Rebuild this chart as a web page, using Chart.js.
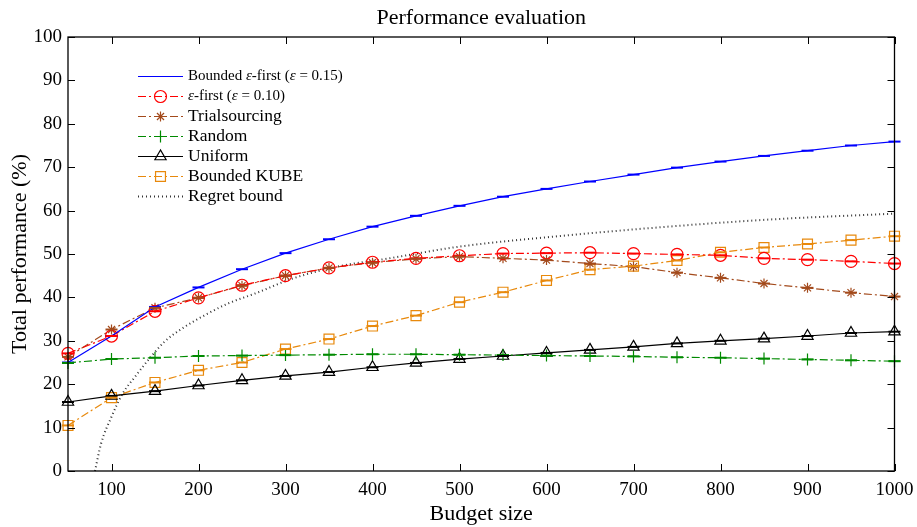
<!DOCTYPE html>
<html>
<head>
<meta charset="utf-8">
<script src="https://cdn.jsdelivr.net/npm/chart.js@4/dist/chart.umd.min.js"></script>
<style>
  html, body { margin: 0; padding: 0; background: #fff; }
  #wrap { width: 917px; height: 527px; }
</style>
</head>
<body>
<div id="wrap"><canvas id="perf" width="917" height="527"></canvas></div>
<script>
// budgets where every method was evaluated
const budgets = [50, 100, 150, 200, 250, 300, 350, 400, 450, 500, 550, 600, 650, 700, 750, 800, 850, 900, 950, 1000];

const boundedEpsFirst = [25.0, 31.1, 37.8, 42.3, 46.5, 50.2, 53.4, 56.3, 58.8, 61.1, 63.2, 65.0, 66.7, 68.3, 69.9, 71.3, 72.6, 73.8, 75.0, 75.9];
const epsFirst = [27.1, 31.1, 36.8, 39.9, 42.8, 45.0, 46.8, 48.1, 49.0, 49.6, 50.1, 50.2, 50.3, 50.1, 49.9, 49.7, 49.0, 48.7, 48.3, 47.8];
const trialsourcing = [26.3, 32.6, 37.6, 39.9, 42.7, 45.0, 46.8, 48.0, 48.9, 49.4, 49.0, 48.6, 47.8, 47.1, 45.7, 44.5, 43.2, 42.2, 41.1, 40.2];
const random = [24.9, 25.8, 26.1, 26.5, 26.6, 26.7, 26.8, 26.9, 26.9, 26.8, 26.7, 26.6, 26.5, 26.4, 26.2, 26.1, 25.9, 25.7, 25.5, 25.3];
const uniform = [15.9, 17.3, 18.4, 19.7, 20.9, 21.9, 22.8, 23.9, 24.9, 25.8, 26.5, 27.2, 27.9, 28.6, 29.4, 30.0, 30.5, 31.1, 31.8, 32.1];
const boundedKube = [10.5, 16.9, 20.4, 23.2, 25.0, 28.1, 30.4, 33.4, 35.8, 38.9, 41.2, 43.9, 46.4, 47.2, 48.5, 50.4, 51.5, 52.3, 53.2, 54.1];

const regretX = [81, 88, 100, 113, 127, 142, 161, 184, 211, 234, 265, 309, 362, 416, 500, 608, 746, 861, 1000];
const regretY = [0, 6.3, 12.5, 17.9, 21.7, 25.5, 29.8, 33.2, 36.3, 38.6, 40.9, 44.4, 47.2, 48.9, 51.7, 54.0, 56.4, 58.0, 59.3];

const xTicks = [100, 200, 300, 400, 500, 600, 700, 800, 900, 1000];
const yTicks = [0, 10, 20, 30, 40, 50, 60, 70, 80, 90, 100];

const SERIF = '"Liberation Serif", "DejaVu Serif", serif';
const DASHDOT = [8, 3, 2, 3];

function pts(xs, ys) {
  return xs.map((x, i) => ({ x: x, y: ys[i] }));
}

function series(label, ys, color, opts) {
  return Object.assign({
    label: label,
    data: pts(budgets, ys),
    borderColor: color,
    backgroundColor: color,
    pointBorderColor: color,
    pointBackgroundColor: 'rgba(0,0,0,0)',
    borderWidth: 1.2,
    pointBorderWidth: 1.2,
    tension: 0,
    clip: false,
    caps: true
  }, opts);
}

const datasets = [
  series('Bounded ε-first (ε = 0.15)', boundedEpsFirst, '#0000ff', { pointRadius: 0 }),
  series('ε-first (ε = 0.10)', epsFirst, '#ff0000', { borderDash: DASHDOT, pointStyle: 'circle', pointRadius: 6 }),
  series('Trialsourcing', trialsourcing, '#a34a1c', { borderDash: DASHDOT, pointStyle: 'star', pointRadius: 5 }),
  series('Random', random, '#008a00', { borderDash: DASHDOT, pointStyle: 'cross', pointRadius: 6 }),
  series('Uniform', uniform, '#000000', { pointStyle: 'triangle', pointRadius: 6.5 }),
  series('Bounded KUBE', boundedKube, '#e8890c', { borderDash: DASHDOT, pointStyle: 'rect', pointRadius: 7 }),
  {
    label: 'Regret bound',
    data: pts(regretX, regretY),
    borderColor: '#333',
    borderWidth: 2,
    borderDash: [1, 3],
    pointRadius: 0,
    cubicInterpolationMode: 'monotone',
    clip: false
  }
];

// small error-bar caps through each marker
const capsPlugin = {
  id: 'caps',
  afterDatasetsDraw(chart) {
    const ctx = chart.ctx;
    chart.data.datasets.forEach((ds, i) => {
      if (!ds.caps) return;
      const meta = chart.getDatasetMeta(i);
      ctx.save();
      ctx.strokeStyle = ds.borderColor;
      ctx.lineWidth = 2;
      meta.data.forEach(el => {
        ctx.beginPath();
        ctx.moveTo(el.x - 6, el.y);
        ctx.lineTo(el.x + 6, el.y);
        ctx.stroke();
      });
      ctx.restore();
    });
  }
};

// box around the plot with inward ticks on all four sides
const boxPlugin = {
  id: 'box',
  afterDraw(chart) {
    const ctx = chart.ctx;
    const a = chart.chartArea;
    const xs = chart.scales.x, ys = chart.scales.y;
    const len = 7;
    ctx.save();
    ctx.strokeStyle = '#000';
    ctx.lineWidth = 1;
    xTicks.forEach(v => {
      const px = Math.round(xs.getPixelForValue(v)) + 0.5;
      ctx.beginPath();
      ctx.moveTo(px, a.bottom); ctx.lineTo(px, a.bottom - len);
      ctx.moveTo(px, a.top); ctx.lineTo(px, a.top + len);
      ctx.stroke();
    });
    yTicks.forEach(v => {
      const py = Math.round(ys.getPixelForValue(v)) + 0.5;
      ctx.beginPath();
      ctx.moveTo(a.left, py); ctx.lineTo(a.left + len, py);
      ctx.moveTo(a.right, py); ctx.lineTo(a.right - len, py);
      ctx.stroke();
    });
    ctx.lineWidth = 1.3;
    ctx.strokeRect(a.left, a.top, a.right - a.left, a.bottom - a.top);
    // title, centred over the plot area
    ctx.fillStyle = '#000';
    ctx.font = '22px ' + SERIF;
    ctx.textAlign = 'center';
    ctx.textBaseline = 'middle';
    ctx.fillText('Performance evaluation', (a.left + a.right) / 2, 18);
    ctx.restore();
  }
};

function drawMarker(ctx, style, x, y, r) {
  ctx.beginPath();
  if (style === 'circle') {
    ctx.arc(x, y, r, 0, Math.PI * 2);
  } else if (style === 'rect') {
    const s = r * Math.SQRT1_2;
    ctx.rect(x - s, y - s, 2 * s, 2 * s);
  } else if (style === 'triangle') {
    const half = r * 0.866;
    ctx.moveTo(x, y - r);
    ctx.lineTo(x - half, y + r / 2);
    ctx.lineTo(x + half, y + r / 2);
    ctx.closePath();
  } else if (style === 'cross') {
    ctx.moveTo(x - r, y); ctx.lineTo(x + r, y);
    ctx.moveTo(x, y - r); ctx.lineTo(x, y + r);
  } else if (style === 'star') {
    ctx.moveTo(x - r, y); ctx.lineTo(x + r, y);
    ctx.moveTo(x, y - r); ctx.lineTo(x, y + r);
    const d = r * Math.SQRT1_2;
    ctx.moveTo(x - d, y - d); ctx.lineTo(x + d, y + d);
    ctx.moveTo(x - d, y + d); ctx.lineTo(x + d, y - d);
  }
  ctx.stroke();
}

// legend entries: text pieces, italic where the label uses a symbol
const legendText = [
  [['Bounded ', false], ['ε', true], ['-first (', false], ['ε', true], [' = 0.15)', false]],
  [['ε', true], ['-first (', false], ['ε', true], [' = 0.10)', false]],
  [['Trialsourcing', false]],
  [['Random', false]],
  [['Uniform', false]],
  [['Bounded KUBE', false]],
  [['Regret bound', false]]
];
const legendSize = [15, 15, 17.5, 17.5, 17.5, 17.5, 17.5];

const legendPlugin = {
  id: 'insideLegend',
  afterDraw(chart) {
    const ctx = chart.ctx;
    const x0 = 138, x1 = 183, tx = 188, y0 = 76.5, step = 20;
    chart.data.datasets.forEach((ds, i) => {
      const y = y0 + i * step;
      ctx.save();
      ctx.strokeStyle = ds.borderColor;
      ctx.lineWidth = ds.borderWidth;
      ctx.setLineDash(ds.borderDash || []);
      ctx.beginPath();
      ctx.moveTo(x0, y); ctx.lineTo(x1, y);
      ctx.stroke();
      ctx.setLineDash([]);
      ctx.lineWidth = 1.2;
      if (ds.pointRadius > 0) drawMarker(ctx, ds.pointStyle, (x0 + x1) / 2, y, ds.pointRadius);
      ctx.fillStyle = '#000';
      ctx.textAlign = 'left';
      ctx.textBaseline = 'middle';
      let cx = tx;
      legendText[i].forEach(([s, it]) => {
        ctx.font = (it ? 'italic ' : '') + legendSize[i] + 'px ' + SERIF;
        ctx.fillText(s, cx, y);
        cx += ctx.measureText(s).width;
      });
      ctx.restore();
    });
  }
};

new Chart(document.getElementById('perf'), {
  type: 'line',
  data: { datasets: datasets },
  plugins: [capsPlugin, boxPlugin, legendPlugin],
  options: {
    responsive: false,
    animation: false,
    layout: { padding: { top: 37, right: 22.5, left: 0, bottom: 0 } },
    plugins: {
      legend: { display: false },
      title: { display: false },
      tooltip: { enabled: false }
    },
    scales: {
      x: {
        type: 'linear',
        min: 50,
        max: 1000,
        afterBuildTicks: s => { s.ticks = xTicks.map(v => ({ value: v })); },
        afterFit: s => { s.height = 56; s.paddingLeft = 0; s.paddingRight = 0; },
        grid: { display: false, drawTicks: false },
        border: { display: false },
        ticks: { font: { family: SERIF, size: 19 }, color: '#000', padding: 8, maxRotation: 0, callback: v => String(v) },
        title: { display: true, text: 'Budget size', font: { family: SERIF, size: 22 }, color: '#000', padding: 0 }
      },
      y: {
        min: 0,
        max: 100,
        afterBuildTicks: s => { s.ticks = yTicks.map(v => ({ value: v })); },
        afterFit: s => { s.width = 68; s.paddingTop = 0; s.paddingBottom = 0; },
        grid: { display: false, drawTicks: false },
        border: { display: false },
        ticks: { font: { family: SERIF, size: 19 }, color: '#000', padding: 6, callback: v => String(v) },
        title: { display: true, text: 'Total performance (%)', font: { family: SERIF, size: 22 }, color: '#000', padding: { top: 7, bottom: 0 } }
      }
    }
  }
});
</script>
</body>
</html>
